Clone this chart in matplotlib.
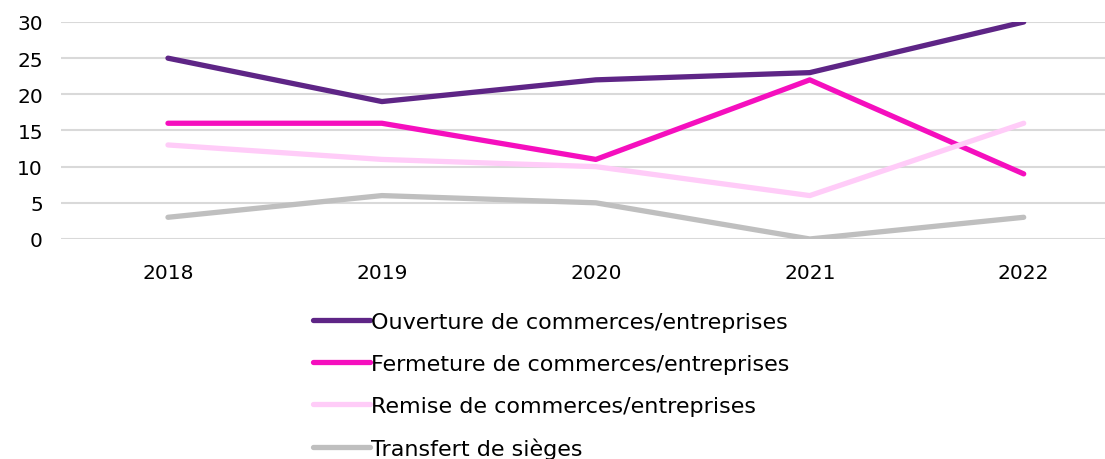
import matplotlib
matplotlib.use('Agg')
import matplotlib.pyplot as plt

plt.rcParams['font.family'] = ['DejaVu Sans']

# données
annees = ['2018', '2019', '2020', '2021', '2022']
ouverture = [25, 19, 22, 23, 30]
fermeture = [16, 16, 11, 22, 9]
remise = [13, 11, 10, 6, 16]
transfert = [3, 6, 5, 0, 3]

series = [
    ('Ouverture de commerces/entreprises', ouverture, '#5E2586'),
    ('Fermeture de commerces/entreprises', fermeture, '#F50FBE'),
    ('Remise de commerces/entreprises', remise, '#FFCCF8'),
    ('Transfert de sièges', transfert, '#BFBFBF'),
]

fig = plt.figure(figsize=(11.05, 4.6), dpi=100)
ax = fig.add_axes([0.0552, 0.4783, 0.9448, 0.4717])

x = range(len(annees))
for nom, vals, couleur in series:
    ax.plot(x, vals, color=couleur, lw=3.8, solid_capstyle='round',
            solid_joinstyle='round', label=nom)

ax.set_ylim(0, 30)
ax.set_yticks(range(0, 31, 5))
ax.set_xlim(-0.5, 4.38)
ax.set_xticks(list(x))
ax.set_xticklabels(annees)
ax.grid(axis='y', color='#D9D9D9', lw=1.5)
ax.set_axisbelow(True)
for s in ax.spines.values():
    s.set_visible(False)
ax.tick_params(length=0, labelsize=14.5, colors='black')
ax.tick_params(axis='y', pad=13)
ax.tick_params(axis='x', pad=17)

fig.legend(loc='upper left', bbox_to_anchor=(0.2833, 0.319), frameon=False,
           fontsize=16, handlelength=2.57, handletextpad=0.05,
           labelspacing=0.98, borderaxespad=0, borderpad=0)

fig.savefig('out.png', dpi=100)
